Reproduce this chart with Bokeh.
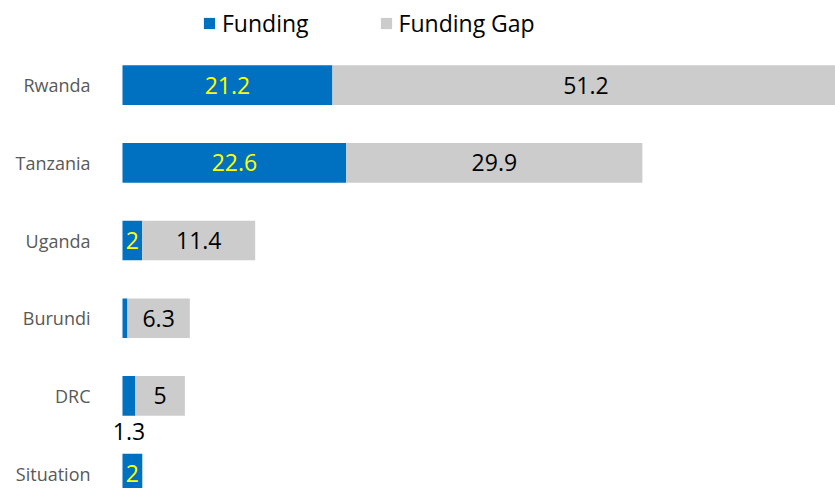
from bokeh.plotting import figure
from bokeh.models import ColumnDataSource, Range1d, FixedTicker, Legend, LegendItem
from bokeh.core.properties import value
from bokeh.embed import file_html
from bokeh.resources import INLINE

countries = ["Rwanda", "Tanzania", "Uganda", "Burundi", "DRC", "Situation"]
funding = [21.2, 22.6, 2, 0.5, 1.3, 2]
funding_gap = [51.2, 29.9, 11.4, 6.3, 5, 0]
funding_labels = ["21.2", "22.6", "2", "", "", "2"]
funding_labels_below = ["", "", "", "", "1.3", ""]
gap_labels = ["51.2", "29.9", "11.4", "6.3", "5", ""]

BLUE = "#0070C0"
GRAY = "#CCCCCC"
FONT = "Open Sans"

n = len(countries)
ys = [n - 1 - i for i in range(n)]
fx = [f / 2 for f in funding]
gx = [f + g / 2 for f, g in zip(funding, funding_gap)]
total = [f + g for f, g in zip(funding, funding_gap)]

src = ColumnDataSource(dict(
    y=ys, country=countries, funding=funding, gap=funding_gap, total=total,
    fx=fx, gx=gx, flab=funding_labels, flab_below=funding_labels_below, glab=gap_labels,
))

p = figure(width=835, height=488, output_backend="svg", toolbar_location=None,
           x_range=Range1d(-2.22, 72.0), y_range=Range1d(-0.192, 6.09),
           min_border_left=100, min_border_right=0, min_border_top=0, min_border_bottom=0)

bh = 0.51
r_f = p.hbar(y="y", left=0, right="funding", height=bh, source=src, fill_color=BLUE, line_color=None)
r_g = p.hbar(y="y", left="funding", right="total", height=bh, source=src, fill_color=GRAY, line_color=None)

p.text(x="fx", y="y", text="flab", source=src, text_align="center", text_baseline="middle",
       text_font=value(FONT), text_font_size="23px", text_color="#FFFF00")
p.text(x="gx", y="y", text="glab", source=src, text_align="center", text_baseline="middle",
       text_font=value(FONT), text_font_size="23px", text_color="#000000")
p.text(x="fx", y="y", text="flab_below", source=src, text_align="center", text_baseline="middle",
       y_offset=36, text_font=value(FONT), text_font_size="23px", text_color="#000000")

p.xaxis.visible = False
p.xgrid.visible = False
p.ygrid.visible = False
p.outline_line_color = None

yax = p.yaxis[0]
yax.ticker = FixedTicker(ticks=ys)
yax.major_label_overrides = {y: c for y, c in zip(ys, countries)}
yax.axis_line_color = None
yax.major_tick_line_color = None
yax.minor_tick_line_color = None
yax.major_tick_in = 0
yax.major_tick_out = 0
yax.major_label_standoff = 10
yax.major_label_text_font = FONT
yax.major_label_text_font_size = "18px"
yax.major_label_text_color = "#595959"

legend = Legend(items=[LegendItem(label="Funding", renderers=[r_f]),
                       LegendItem(label="Funding Gap", renderers=[r_g])],
                orientation="horizontal", location=(102, 449),
                padding=0, margin=0, spacing=70, glyph_width=14, glyph_height=14,
                label_standoff=6, label_height=24, label_text_font=FONT, label_text_font_size="23px",
                label_text_color="#000000", border_line_color=None, background_fill_alpha=0)
p.add_layout(legend)

open("out.html", "w").write(file_html(p, INLINE))
